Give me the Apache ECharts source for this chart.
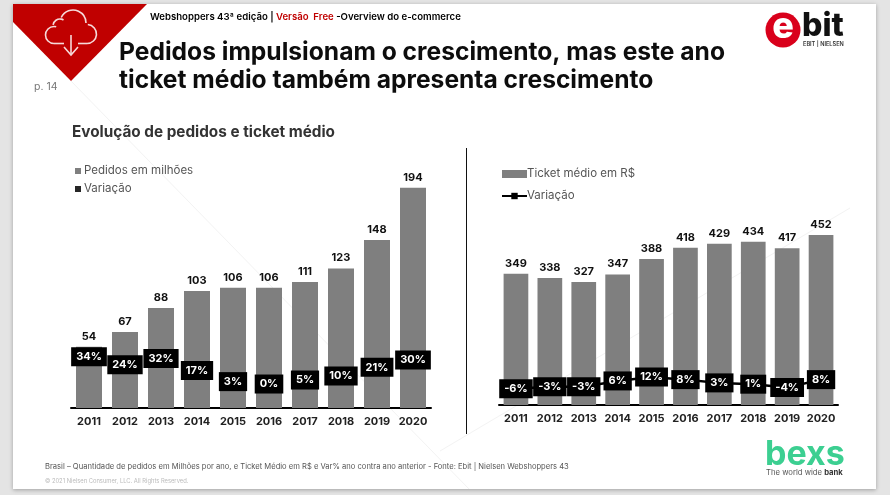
<!DOCTYPE html>
<html><head><meta charset="utf-8">
<style>html,body{margin:0;padding:0;background:#e4e4e4}#c{width:890px;height:495px}</style>
<script src="https://cdn.jsdelivr.net/npm/echarts@6/dist/echarts.min.js"></script>
</head><body><div id="c"></div>
<script>
const years = ['2011','2012','2013','2014','2015','2016','2017','2018','2019','2020'];
const orders = [54,67,88,103,106,106,111,123,148,194];
const ordersVar = [34,24,32,17,3,0,5,10,21,30];
const tickets = [349,338,327,347,388,418,429,434,417,452];
const ticketsVar = [-6,-3,-3,6,12,8,3,1,-4,8];

const FONT = 'Inter, "Open Sans", sans-serif';
const chart = echarts.init(document.getElementById('c'), null, {renderer:'canvas'});
const txt = (x,y,text,size,weight,fill,extra) => Object.assign({type:'text',x,y,z:5,silent:true,
  style:Object.assign({text,font:`${weight} ${size}px ${FONT}`,fill,textVerticalAlign:'middle',textBaseline:'middle'},extra||{})});
const W = {stroke:'#f6d9d9',fill:null,lineWidth:1.6};
const arc = (cx,cy,r,a,b)=>({type:'arc',z:4,silent:true,shape:{cx,cy,r,startAngle:a*Math.PI/180,endAngle:b*Math.PI/180},style:W});
const pl = pts=>({type:'polyline',z:4,silent:true,shape:{points:pts},style:W});
const faint = (x1,y1,x2,y2)=>({type:'line',z:-1,silent:true,shape:{x1,y1,x2,y2},style:{stroke:'#f3f3f3',lineWidth:1}});
const barLabel = {show:true,position:'top',distance:5,color:'#111',fontFamily:FONT,fontWeight:700,fontSize:11};
const varLabel = {show:true,position:'inside',formatter:p=>p.value+'%',color:'#fff',backgroundColor:'#000',
  padding:[4,5],fontFamily:FONT,fontWeight:700,fontSize:11};
const xAx = i=>({type:'category',gridIndex:i,data:years,axisTick:{show:false},
  axisLine:{lineStyle:{color:'#000',width:2}},
  axisLabel:{interval:0,margin:8,color:'#222',fontFamily:FONT,fontWeight:700,fontSize:11}});
const yAx = (i,min,max)=>({type:'value',gridIndex:i,min,max,show:false,splitLine:{show:false}});

chart.setOption({
  animation:false,
  backgroundColor:'#e4e4e4',
  grid:[{left:71,top:181,width:360,height:227},{left:499,top:217,width:339,height:188}],
  xAxis:[xAx(0),xAx(1)],
  yAxis:[yAx(0,0,200),yAx(0,-30,254),yAx(1,0,500),yAx(1,-31,258)],
  legend:[
    {left:75,top:165,padding:0,orient:'vertical',itemWidth:6,itemHeight:6,itemGap:6,
     selectedMode:false,
     textStyle:{color:'#555',fontFamily:FONT,fontSize:11.5,padding:[0,0,0,-2]},
     formatter:n=>n==='Variação pedidos'?'Variação':n,
     data:[{name:'Pedidos em milhões',icon:'rect'},{name:'Variação pedidos',icon:'rect'}]},
    {left:501,top:168,padding:0,orient:'vertical',itemWidth:25,itemHeight:8,itemGap:10,selectedMode:false,
     textStyle:{color:'#555',fontFamily:FONT,fontSize:11.5,padding:[0,0,0,-5]},
     formatter:n=>n==='Variação ticket'?'Variação':n,
     data:[{name:'Ticket médio em R$',icon:'rect'},{name:'Variação ticket'}]}
  ],
  series:[
    {name:'Pedidos em milhões',type:'bar',xAxisIndex:0,yAxisIndex:0,data:orders,barWidth:26,itemStyle:{color:'#7f7f7f'},label:barLabel},
    {name:'Variação pedidos',type:'line',xAxisIndex:0,yAxisIndex:1,data:ordersVar,symbol:'rect',symbolSize:6,z:4,
     lineStyle:{width:0},itemStyle:{color:'#262626'},label:varLabel},
    {name:'Ticket médio em R$',type:'bar',xAxisIndex:1,yAxisIndex:2,data:tickets,barWidth:24.7,itemStyle:{color:'#7f7f7f'},label:barLabel},
    {name:'Variação ticket',type:'line',xAxisIndex:1,yAxisIndex:3,data:ticketsVar,symbol:'rect',symbolSize:8,z:4,
     lineStyle:{color:'#000',width:2.5},itemStyle:{color:'#000'},label:varLabel}
  ],
  graphic:{elements:[
    {type:'rect',z:-2,silent:true,shape:{x:13,y:4,width:863,height:485},style:{fill:'#fff',shadowBlur:4,shadowColor:'rgba(0,0,0,0.3)',shadowOffsetY:1}},
    faint(71,81,469,489),faint(850,208,440,451),
    {type:'polygon',z:3,silent:true,shape:{points:[[13,4],[147,4],[71,81],[13,22]]},style:{fill:'#c00000'}},
    arc(54,35,8.5,90,285),arc(60,26,7,190,300),arc(73,23,13,205,360),arc(87,34,9.5,275,450),
    pl([[54,43.5],[64,43.5]]),pl([[78,43.5],[87,43.5]]),pl([[71,35],[71,55]]),pl([[64,47],[71,55],[78,47]]),
    {type:'text',z:5,silent:true,x:150,y:17,style:{
      text:'{a|Webshoppers 43ª edição | }{b|Versão  Free }{a|-Overview do e-commerce}',
      textVerticalAlign:'middle',textBaseline:'middle',
      rich:{a:{font:`600 9.6px ${FONT}`,fill:'#000',color:'#000'},b:{font:`600 9.6px ${FONT}`,fill:'#c00000',color:'#c00000'}}}},
    txt(119,53,'Pedidos impulsionam o crescimento, mas este ano',24.6,700,'#0d0d0d'),
    txt(119,81,'ticket médio também apresenta crescimento',24.6,700,'#0d0d0d'),
    txt(34,87,'p. 14',10.5,400,'#777'),
    txt(72,132,'Evolução de pedidos e ticket médio',15.3,700,'#333'),
    {type:'line',z:3,silent:true,shape:{x1:466.5,y1:148,x2:466.5,y2:434},style:{stroke:'#111',lineWidth:1}},
    txt(45,467,'Brasil – Quantidade de pedidos em Milhões por ano, e Ticket Médio em R$ e Var% ano contra ano anterior - Fonte: Ebit | Nielsen Webshoppers 43',7.6,400,'#555'),
    txt(45,481,'© 2021 Nielsen Consumer, LLC. All Rights Reserved.',5.8,400,'#bbb'),
    {type:'circle',z:4,silent:true,shape:{cx:783,cy:30,r:17.5},style:{fill:'#d9001b'}},
    {type:'text',z:5,silent:true,x:783,y:27,style:{text:'e',font:`800 36px ${FONT}`,fill:'#fff',textAlign:'center',align:'center',textVerticalAlign:'middle',verticalAlign:'middle'}},
    txt(802,26,'bit',32,800,'#111'),
    txt(803,44,'EBIT | NIELSEN',5.6,600,'#333'),
    txt(765,455,'bexs',34,700,'#3ccf91'),
    {type:'text',z:5,silent:true,x:766,y:473,style:{text:'{a|The world wide }{b|bank}',textVerticalAlign:'middle',verticalAlign:'middle',
      rich:{a:{font:`400 7.7px ${FONT}`,fill:'#555',color:'#555'},b:{font:`700 7.7px ${FONT}`,fill:'#333',color:'#333'}}}}
  ]}
});
</script></body></html>
